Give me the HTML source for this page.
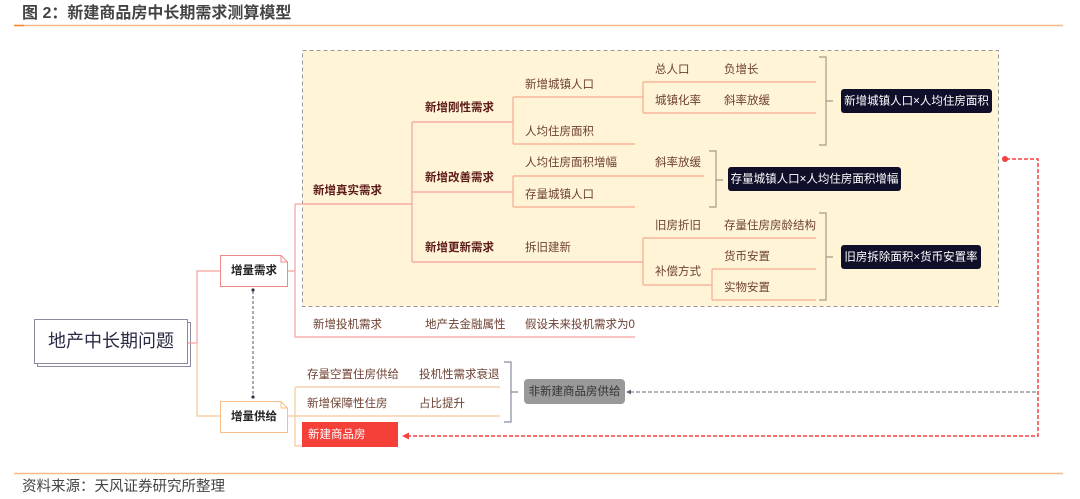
<!DOCTYPE html>
<html><head><meta charset="utf-8"><style>
html,body{margin:0;padding:0;background:#fff;width:1080px;height:499px;overflow:hidden}
svg{display:block}
text{font-family:"Liberation Sans","Noto Sans CJK SC",sans-serif;dominant-baseline:middle}
.n{font-size:11.5px;fill:#6e4132}
.b{font-size:11.5px;fill:#5c1a1a;font-weight:bold}
.w{font-size:11.5px;fill:#fff}
</style></head><body>
<svg width="1080" height="499" viewBox="0 0 1080 499">
<text x="22" y="14" style="font-size:16px;font-weight:bold;fill:#444">图 2：新建商品房中长期需求测算模型</text>
<line x1="14" y1="25.5" x2="1063" y2="25.5" stroke="#f7b98a" stroke-width="1.5"/>
<line x1="14" y1="25.5" x2="24" y2="25.5" stroke="#f08a30" stroke-width="1.5"/>
<line x1="14" y1="473.5" x2="1063" y2="473.5" stroke="#f7b98a" stroke-width="1.5"/>
<text x="22" y="487" style="font-size:14.5px;fill:#444">资料来源：天风证券研究所整理</text>

<rect x="302.5" y="50.5" width="696" height="256" fill="#fff4d6" stroke="#999" stroke-dasharray="4,3"/>

<rect x="37.5" y="322.5" width="153" height="44" fill="#fff" stroke="#8a8aa0"/>
<rect x="34.5" y="319.5" width="153" height="44" fill="#fff" stroke="#8a8aa0"/>
<text x="111" y="342" text-anchor="middle" style="font-size:18px;fill:#2b2b45">地产中长期问题</text>

<g fill="none" stroke-width="1.2">
<path d="M188 343H197V271H220" stroke="#f4a0a0"/>
<path d="M197 343V416H220" stroke="#f7c89a"/>
<path d="M288 271H295M295 204V337H635M295 204H412M412 122V262M412 122H513M412 192H513M412 262H643" stroke="#f4a0a0"/>
<path d="M513 97V144M513 97H643M513 144H635M643 82V113M643 82H816M643 113H816" stroke="#f7ab90"/>
<path d="M513 176V207M513 176H704M513 207H635" stroke="#f7ab90"/>
<path d="M643 238V285M643 238H816M643 285H712M712 269V300M712 269H816M712 300H816" stroke="#f7ab90"/>
<path d="M288 416H295M295 387V446H302M295 387H500M295 416H500" stroke="#f7c89a"/>
</g>
<g fill="none" stroke="#a89a8a" stroke-width="1.2">
<path d="M819 57H826V145H819M826 101H833"/>
<path d="M709 151H716V207H709M716 180H723"/>
<path d="M819 213H826V300H819M826 257H833"/>
<path d="M504 362H511V422H504M511 392H518" stroke="#8a8aa0"/>
</g>

<path d="M220.5 255.5H281L287.5 262V286.5H220.5Z" fill="#fff" stroke="#f08a8a"/>
<path d="M281 255.5V262H287.5" fill="none" stroke="#f08a8a"/>
<text x="254" y="271" text-anchor="middle" style="font-size:11.5px;font-weight:bold;fill:#222">增量需求</text>
<path d="M220.5 401.5H281L287.5 408V432.5H220.5Z" fill="#fff" stroke="#f7c08a"/>
<path d="M281 401.5V408H287.5" fill="none" stroke="#f7c08a"/>
<text x="254" y="417" text-anchor="middle" style="font-size:11.5px;font-weight:bold;fill:#222">增量供给</text>
<line x1="253" y1="291" x2="253" y2="396" stroke="#556" stroke-dasharray="3,2"/>
<circle cx="253" cy="290" r="1.6" fill="#334"/><circle cx="253" cy="397" r="1.6" fill="#334"/>

<text class="b" x="313" y="191">新增真实需求</text>
<text class="b" x="425" y="108">新增刚性需求</text>
<text class="b" x="425" y="178">新增改善需求</text>
<text class="b" x="425" y="248">新增更新需求</text>
<text class="n" x="525" y="85">新增城镇人口</text>
<text class="n" x="525" y="132">人均住房面积</text>
<text class="n" x="525" y="163">人均住房面积增幅</text>
<text class="n" x="525" y="195">存量城镇人口</text>
<text class="n" x="525" y="248">拆旧建新</text>
<text class="n" x="655" y="70">总人口</text>
<text class="n" x="724" y="70">负增长</text>
<text class="n" x="655" y="101">城镇化率</text>
<text class="n" x="724" y="101">斜率放缓</text>
<text class="n" x="655" y="163">斜率放缓</text>
<text class="n" x="655" y="226">旧房折旧</text>
<text class="n" x="724" y="226">存量住房房龄结构</text>
<text class="n" x="655" y="272">补偿方式</text>
<text class="n" x="724" y="257">货币安置</text>
<text class="n" x="724" y="288">实物安置</text>
<text class="n" x="313" y="325">新增投机需求</text>
<text class="n" x="425" y="325">地产去金融属性</text>
<text class="n" x="525" y="325">假设未来投机需求为0</text>

<rect x="841" y="89" width="151" height="24" rx="3" fill="#0f0f2a"/>
<text class="w" x="916.5" y="101.5" text-anchor="middle">新增城镇人口×人均住房面积</text>
<rect x="728" y="167" width="173" height="24" rx="3" fill="#0f0f2a"/>
<text class="w" x="814.5" y="179.5" text-anchor="middle">存量城镇人口×人均住房面积增幅</text>
<rect x="841" y="245" width="140" height="24" rx="3" fill="#0f0f2a"/>
<text class="w" x="911" y="257.5" text-anchor="middle">旧房拆除面积×货币安置率</text>

<text class="n" x="307" y="375">存量空置住房供给</text>
<text class="n" x="419" y="375">投机性需求衰退</text>
<text class="n" x="307" y="404">新增保障性住房</text>
<text class="n" x="419" y="404">占比提升</text>
<rect x="302" y="422" width="96" height="25" fill="#f5403a"/>
<text class="w" x="308" y="435">新建商品房</text>
<rect x="524" y="379" width="101" height="25" rx="4" fill="#999"/>
<text x="574.5" y="392" text-anchor="middle" style="font-size:11.5px;fill:#333">非新建商品房供给</text>

<path d="M1036 392H630" fill="none" stroke="#667" stroke-dasharray="4,2"/>
<path d="M626 392l5-2.5v5z" fill="#667"/>
<path d="M1006 159H1038V436H408" fill="none" stroke="#f54040" stroke-width="1.5" stroke-dasharray="4,2"/>
<circle cx="1005" cy="159" r="3" fill="#f54040"/>
<path d="M402 436l7-3.5v7z" fill="#f54040"/>
</svg>
</body></html>
